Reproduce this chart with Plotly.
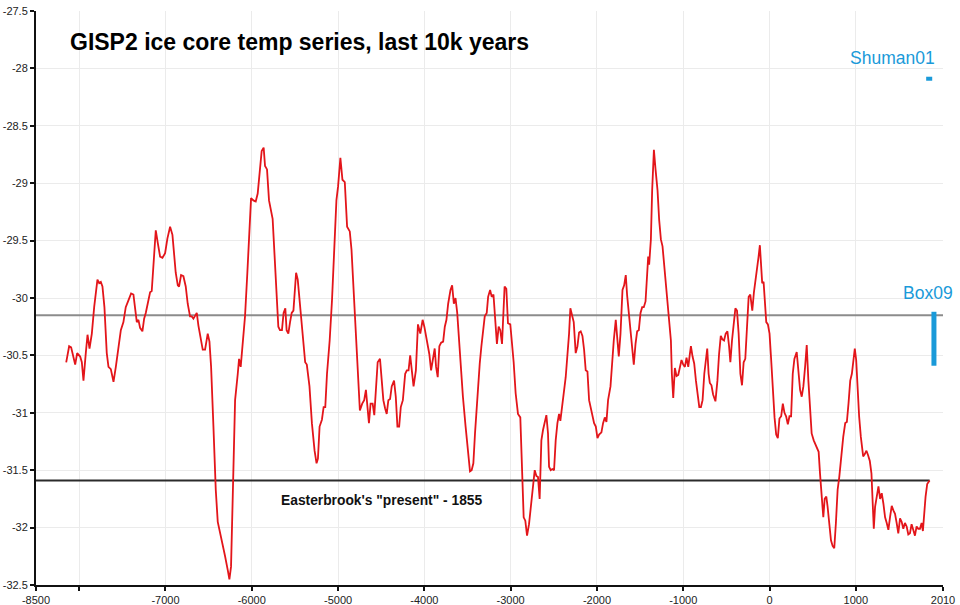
import plotly.graph_objects as go

# GISP2 temperature series (year, deg C)
years = [-8150, -8116, -8093, -8066, -8046, -8023, -7988, -7969, -7950, -7923, -7903, -7880, -7853, -7826,
         -7788, -7768, -7749, -7730, -7707, -7680, -7660, -7633, -7602, -7575, -7545, -7517, -7487, -7460,
         -7429, -7398, -7371, -7352, -7332, -7313, -7294, -7267, -7247, -7228, -7197, -7178, -7159, -7139,
         -7112, -7089, -7062, -7035, -7004, -6977, -6946, -6919, -6896, -6881, -6857, -6842, -6819, -6792,
         -6765, -6742, -6715, -6695, -6676, -6657, -6637, -6618, -6591, -6568, -6541, -6510, -6490, -6471,
         -6444, -6417, -6394, -6367, -6336, -6309, -6278, -6259, -6240, -6220, -6193, -6162, -6147, -6128,
         -6105, -6078, -6051, -6027, -6008, -5981, -5954, -5931, -5904, -5885, -5862, -5846, -5823, -5800,
         -5758, -5739, -5720, -5692, -5673, -5650, -5631, -5611, -5596, -5576, -5556, -5537, -5517, -5486,
         -5467, -5440, -5408, -5381, -5362, -5331, -5303, -5272, -5249, -5233, -5214, -5187, -5167, -5148,
         -5128, -5097, -5070, -5039, -5019, -5000, -4973, -4949, -4922, -4895, -4864, -4844, -4825, -4805,
         -4786, -4767, -4747, -4720, -4697, -4677, -4662, -4642, -4623, -4599, -4580, -4560, -4541, -4514,
         -4494, -4475, -4455, -4436, -4417, -4397, -4378, -4351, -4331, -4312, -4292, -4273, -4249, -4222,
         -4203, -4183, -4164, -4144, -4125, -4098, -4074, -4047, -4020, -4000, -3969, -3942, -3922, -3903,
         -3880, -3864, -3845, -3826, -3806, -3782, -3763, -3744, -3724, -3697, -3678, -3658, -3639, -3619,
         -3600, -3580, -3553, -3522, -3495, -3471, -3452, -3432, -3413, -3386, -3358, -3339, -3319, -3300,
         -3277, -3261, -3238, -3219, -3199, -3174, -3159, -3139, -3120, -3100, -3081, -3070, -3050, -3031,
         -3004, -2985, -2965, -2942, -2915, -2888, -2868, -2849, -2830, -2810, -2787, -2760, -2741, -2721,
         -2702, -2683, -2664, -2644, -2625, -2606, -2586, -2567, -2555, -2536, -2517, -2497, -2478, -2458,
         -2439, -2424, -2404, -2385, -2362, -2342, -2323, -2308, -2288, -2269, -2246, -2226, -2207, -2188,
         -2168, -2149, -2130, -2110, -2091, -2072, -2052, -2033, -2013, -1994, -1975, -1948, -1929, -1909,
         -1890, -1871, -1843, -1824, -1805, -1782, -1766, -1747, -1727, -1704, -1685, -1666, -1650, -1627,
         -1608, -1588, -1573, -1553, -1534, -1515, -1495, -1476, -1457, -1437, -1418, -1406, -1395, -1375,
         -1360, -1340, -1321, -1298, -1279, -1259, -1240, -1221, -1201, -1182, -1163, -1143, -1132, -1116,
         -1097, -1078, -1058, -1039, -1020, -1000, -981, -962, -942, -922, -911, -892, -873, -853,
         -834, -814, -795, -776, -756, -737, -722, -706, -692, -673, -654, -627, -604, -585,
         -565, -546, -527, -508, -488, -469, -454, -435, -415, -396, -377, -358, -338, -319,
         -300, -281, -261, -242, -223, -200, -181, -162, -142, -127, -112, -96, -85, -69,
         -58, -38, -19, 0, 19, 38, 58, 77, 96, 115, 135, 154, 173, 192,
         212, 231, 250, 269, 288, 315, 335, 354, 373, 392, 412, 431, 450, 469,
         488, 512, 531, 550, 569, 585, 604, 623, 639, 658, 673, 692, 712, 731,
         750, 769, 789, 808, 831, 854, 877, 896, 915, 935, 954, 973, 988, 1004,
         1019, 1038, 1058, 1069, 1085, 1104, 1123, 1142, 1162, 1181, 1192, 1208, 1223, 1242,
         1262, 1281, 1300, 1319, 1339, 1358, 1377, 1396, 1416, 1435, 1454, 1473, 1492, 1512,
         1531, 1550, 1569, 1589, 1608, 1627, 1646, 1666, 1685, 1704, 1723, 1743, 1762, 1777,
         1789, 1808, 1827, 1846, 1855]

temps = [-30.56, -30.42, -30.43, -30.51, -30.58, -30.48, -30.51, -30.56, -30.72, -30.48, -30.32, -30.44, -30.31, -30.08,
         -29.84, -29.87, -29.86, -29.90, -30.08, -30.48, -30.60, -30.62, -30.73, -30.60, -30.45, -30.28, -30.21, -30.08,
         -30.02, -29.96, -29.97, -30.08, -30.21, -30.19, -30.26, -30.29, -30.18, -30.13, -30.03, -29.95, -29.94, -29.73,
         -29.41, -29.52, -29.64, -29.65, -29.61, -29.48, -29.38, -29.45, -29.64, -29.78, -29.89, -29.90, -29.80, -29.81,
         -29.90, -30.05, -30.16, -30.16, -30.18, -30.16, -30.13, -30.24, -30.35, -30.45, -30.45, -30.31, -30.38, -30.60,
         -31.12, -31.67, -31.95, -32.04, -32.15, -32.25, -32.37, -32.45, -32.34, -31.67, -30.89, -30.66, -30.53, -30.60,
         -30.42, -30.16, -29.78, -29.41, -29.13, -29.15, -29.16, -29.09, -28.85, -28.72, -28.69, -28.85, -28.88, -29.15,
         -29.31, -29.58, -29.97, -30.25, -30.28, -30.28, -30.13, -30.09, -30.28, -30.31, -30.21, -30.13, -30.11, -29.78,
         -29.84, -30.05, -30.31, -30.56, -30.58, -30.77, -31.09, -31.33, -31.44, -31.40, -31.12, -31.06, -30.95, -30.95,
         -30.66, -30.37, -30.02, -29.44, -29.15, -29.03, -28.78, -28.97, -28.99, -29.38, -29.42, -29.58, -29.87, -30.19,
         -30.51, -30.80, -30.98, -30.92, -30.89, -30.80, -30.92, -31.09, -30.92, -30.92, -31.02, -30.80, -30.56, -30.53,
         -30.72, -30.89, -30.96, -31.01, -30.89, -30.88, -30.77, -30.72, -30.86, -31.12, -31.12, -30.95, -30.89, -30.66,
         -30.63, -30.63, -30.50, -30.66, -30.77, -30.63, -30.23, -30.31, -30.19, -30.25, -30.40, -30.49, -30.63, -30.54,
         -30.44, -30.60, -30.69, -30.42, -30.39, -30.38, -30.25, -30.19, -30.05, -29.93, -29.89, -30.05, -30.00, -30.13,
         -30.37, -30.60, -30.86, -31.12, -31.35, -31.51, -31.50, -31.44, -31.18, -30.83, -30.57, -30.42, -30.31, -30.16,
         -30.13, -29.99, -29.93, -29.99, -29.97, -30.25, -30.40, -30.25, -30.28, -30.40, -30.08, -29.90, -29.92, -30.22,
         -30.23, -30.37, -30.56, -30.83, -31.01, -31.04, -31.41, -31.91, -31.94, -32.07, -31.97, -31.76, -31.59, -31.50,
         -31.55, -31.56, -31.75, -31.24, -31.15, -31.09, -31.02, -31.18, -31.47, -31.50, -31.49, -31.50, -31.24, -31.09,
         -31.01, -31.07, -30.92, -30.83, -30.69, -30.51, -30.31, -30.09, -30.16, -30.21, -30.48, -30.42, -30.30, -30.29,
         -30.33, -30.45, -30.63, -30.64, -30.89, -30.95, -31.01, -31.09, -31.12, -31.22, -31.19, -31.17, -31.09, -31.04,
         -31.08, -30.89, -30.77, -30.54, -30.37, -30.19, -30.31, -30.51, -30.31, -29.93, -29.89, -29.80, -29.98, -30.16,
         -30.34, -30.48, -30.58, -30.40, -30.29, -30.28, -30.13, -30.08, -30.08, -30.03, -29.81, -29.64, -29.71, -29.49,
         -29.06, -28.71, -28.88, -29.06, -29.32, -29.49, -29.55, -29.70, -29.88, -30.02, -30.16, -30.37, -30.66, -30.87,
         -30.61, -30.68, -30.67, -30.60, -30.54, -30.58, -30.60, -30.52, -30.60, -30.48, -30.42, -30.51, -30.57, -30.72,
         -30.86, -30.95, -30.95, -30.89, -30.66, -30.51, -30.44, -30.66, -30.74, -30.76, -30.84, -30.90, -30.72, -30.49,
         -30.33, -30.36, -30.37, -30.31, -30.29, -30.42, -30.56, -30.37, -30.19, -30.09, -30.11, -30.31, -30.66, -30.76,
         -30.56, -30.53, -30.25, -29.99, -29.97, -30.11, -29.95, -29.84, -29.77, -29.64, -29.54, -29.70, -29.87, -29.86,
         -30.02, -30.21, -30.23, -30.31, -30.54, -30.80, -31.04, -31.19, -31.22, -31.05, -31.03, -30.92, -31.00, -31.03,
         -31.10, -31.03, -31.03, -30.66, -30.53, -30.47, -30.66, -30.80, -30.86, -30.77, -30.60, -30.41, -30.72, -30.95,
         -31.18, -31.24, -31.27, -31.30, -31.34, -31.53, -31.76, -31.91, -31.75, -31.73, -31.82, -31.96, -32.11, -32.16,
         -32.18, -31.96, -31.67, -31.56, -31.36, -31.21, -31.09, -31.08, -30.92, -30.72, -30.66, -30.54, -30.44, -30.54,
         -30.77, -31.03, -31.21, -31.27, -31.38, -31.36, -31.33, -31.37, -31.42, -31.53, -31.76, -32.01, -31.82, -31.73,
         -31.64, -31.75, -31.70, -31.79, -31.91, -31.96, -32.02, -31.91, -31.81, -31.85, -31.88, -31.96, -32.05, -31.92,
         -31.95, -32.01, -31.96, -31.99, -32.06, -32.05, -31.97, -32.02, -32.07, -31.99, -32.01, -32.01, -31.96, -32.03,
         -31.91, -31.73, -31.62, -31.59, -31.59]

# axis ticks
x_tick_vals = [-8500, -8000, -7000, -6000, -5000, -4000, -3000, -2000, -1000, 0, 1000, 2010]
x_tick_text = ["-8500", "", "-7000", "-6000", "-5000", "-4000", "-3000", "-2000", "-1000", "0", "1000", "2010"]
y_tick_vals = [-32.5, -32, -31.5, -31, -30.5, -30, -29.5, -29, -28.5, -28, -27.5]
y_tick_text = ["-32.5", "-32", "-31.5", "-31", "-30.5", "-30", "-29.5", "-29", "-28.5", "-28", "-27.5"]

# reference levels
x_start, x_end = -8500, 2010
easterbrook_year = 1855
easterbrook_temp = -31.59
box09_line_temp = -30.15
box09_year = 1905
box09_range = [-30.12, -30.59]
shuman01_years = [1815, 1885]
shuman01_temp = -28.09

RED = "#e3151a"
BLUE = "#1a9ad9"
FONT = "Liberation Sans, Arial, Helvetica, sans-serif"

fig = go.Figure()
fig.add_trace(go.Scatter(x=[x_start, x_end], y=[box09_line_temp, box09_line_temp], mode="lines",
                         line=dict(color="#8c8c8c", width=2), hoverinfo="skip"))
fig.add_trace(go.Scatter(x=[x_start, easterbrook_year], y=[easterbrook_temp, easterbrook_temp], mode="lines",
                         line=dict(color="#2b2b2b", width=2), hoverinfo="skip"))
fig.add_trace(go.Scatter(x=years, y=temps, mode="lines", line=dict(color=RED, width=1.8)))
fig.add_trace(go.Scatter(x=[box09_year, box09_year], y=box09_range, mode="lines",
                         line=dict(color=BLUE, width=5), hoverinfo="skip"))
fig.add_trace(go.Scatter(x=shuman01_years, y=[shuman01_temp, shuman01_temp], mode="lines",
                         line=dict(color=BLUE, width=4), hoverinfo="skip"))

axis_common = dict(showgrid=True, gridcolor="#ebebeb", gridwidth=1, zeroline=False,
                   showline=True, linecolor="#111", linewidth=2, automargin=False,
                   ticks="outside", ticklen=4, tickwidth=1.5, tickcolor="#111",
                   tickfont=dict(family=FONT, size=11, color="#222"))

fig.update_layout(
    width=960, height=605,
    margin=dict(l=36, r=17, t=11, b=20),
    paper_bgcolor="white", plot_bgcolor="white",
    showlegend=False,
    font=dict(family=FONT, size=11, color="#222"),
    xaxis=dict(range=[x_start, x_end], tickvals=x_tick_vals, ticktext=x_tick_text, **axis_common),
    yaxis=dict(range=[-32.5, -27.5], tickvals=y_tick_vals, ticktext=y_tick_text, **axis_common),
    annotations=[
        dict(text="<b>GISP2 ice core temp series, last 10k years</b>", xref="paper", yref="paper",
             x=0.035, y=0.946, xanchor="left", yanchor="middle", showarrow=False,
             font=dict(family=FONT, size=23, color="#000")),
        dict(text="<b>Easterbrook's \"present\" - 1855</b>", xref="paper", yref="paper",
             x=0.3815, y=0.148, xanchor="center", yanchor="middle", showarrow=False,
             font=dict(family=FONT, size=13.8, color="#111")),
        dict(text="Shuman01", xref="paper", yref="paper",
             x=0.993, y=0.918, xanchor="right", yanchor="middle", showarrow=False,
             font=dict(family=FONT, size=17.5, color=BLUE)),
        dict(text="Box09", xref="paper", yref="paper",
             x=1.013, y=0.509, xanchor="right", yanchor="middle", showarrow=False,
             font=dict(family=FONT, size=17.5, color=BLUE)),
    ],
)

fig.write_html("out.html", config={"displayModeBar": False},
               post_script="document.body.style.margin='0';document.body.style.overflow='hidden';")
